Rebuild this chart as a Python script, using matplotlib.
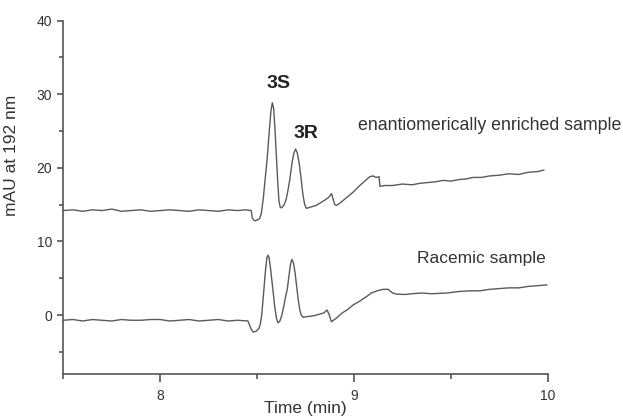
import numpy as np
import matplotlib.pyplot as plt
from matplotlib.ticker import MultipleLocator

plt.rcParams['font.family'] = ['Liberation Sans', 'DejaVu Sans']

# enantiomerically enriched sample (upper trace)
t_enr = [7.50, 7.55, 7.60, 7.65, 7.70, 7.75, 7.80, 7.85, 7.90, 7.95, 8.00, 8.05,
         8.10, 8.15, 8.20, 8.25, 8.30, 8.35, 8.40, 8.44, 8.47, 8.475, 8.487, 8.50,
         8.513, 8.522, 8.532, 8.542, 8.553, 8.563, 8.572, 8.579, 8.586, 8.593,
         8.600, 8.607, 8.613, 8.620, 8.628, 8.640, 8.650, 8.660, 8.670, 8.680,
         8.690, 8.699, 8.708, 8.718, 8.728, 8.737, 8.746, 8.755, 8.780, 8.806,
         8.830, 8.849, 8.870, 8.884, 8.892, 8.901, 8.910, 8.927, 8.950, 8.978,
         9.000, 9.030, 9.060, 9.082, 9.099, 9.115, 9.130, 9.134, 9.160, 9.200,
         9.250, 9.300, 9.340, 9.380, 9.420, 9.460, 9.500, 9.540, 9.580, 9.616,
         9.660, 9.700, 9.750, 9.800, 9.850, 9.900, 9.950, 9.980]
y_enr = [14.2, 14.3, 14.1, 14.3, 14.2, 14.4, 14.1, 14.2, 14.3, 14.1, 14.2, 14.3,
         14.2, 14.1, 14.3, 14.2, 14.1, 14.3, 14.2, 14.3, 14.2, 13.2, 12.8, 12.9,
         13.1, 13.8, 15.8, 18.5, 21.5, 25.0, 27.8, 28.85, 28.0, 25.0,
         21.5, 18.0, 15.5, 14.6, 14.6, 15.0, 15.7, 17.0, 18.6, 20.6,
         22.0, 22.55, 22.0, 20.5, 18.4, 16.3, 15.0, 14.5, 14.7, 14.9,
         15.3, 15.6, 16.0, 16.5, 15.8, 15.0, 14.9, 15.2, 15.7, 16.3,
         16.8, 17.6, 18.3, 18.8, 18.9, 18.7, 18.8, 17.5, 17.6, 17.6,
         17.8, 17.7, 17.9, 18.0, 18.1, 18.3, 18.2, 18.4, 18.5, 18.7,
         18.7, 18.9, 19.0, 19.2, 19.1, 19.4, 19.5, 19.7]

# racemic sample (lower trace)
t_rac = [7.50, 7.55, 7.60, 7.65, 7.70, 7.75, 7.80, 7.85, 7.90, 7.95, 8.00, 8.05,
         8.10, 8.15, 8.20, 8.25, 8.30, 8.35, 8.40, 8.453, 8.468, 8.479, 8.495,
         8.510, 8.517, 8.524, 8.530, 8.537, 8.545, 8.551, 8.556, 8.562, 8.569,
         8.576, 8.583, 8.591, 8.600, 8.608, 8.618, 8.628, 8.638, 8.648, 8.656,
         8.664, 8.672, 8.680, 8.688, 8.696, 8.704, 8.712, 8.720, 8.728, 8.737,
         8.760, 8.790, 8.820, 8.845, 8.861, 8.870, 8.884, 8.910, 8.940, 8.970,
         8.995, 9.030, 9.064, 9.090, 9.120, 9.150, 9.176, 9.200, 9.220, 9.260,
         9.300, 9.350, 9.400, 9.478, 9.540, 9.600, 9.650, 9.700, 9.750, 9.800,
         9.850, 9.900, 9.950, 9.995]
y_rac = [-0.7, -0.6, -0.8, -0.6, -0.7, -0.8, -0.6, -0.7, -0.7, -0.6, -0.6, -0.8,
         -0.7, -0.6, -0.8, -0.7, -0.6, -0.8, -0.7, -0.8, -1.8, -2.3, -2.2,
         -1.8, -1.2, 0.0, 1.8, 4.0, 6.5, 7.8, 8.15, 7.8, 6.5,
         4.8, 3.2, 1.2, -0.4, -1.05, -0.8, 0.0, 1.2, 2.6, 3.5,
         5.2, 6.8, 7.57, 7.1, 5.8, 4.0, 2.2, 0.8, 0.0, -0.3,
         -0.2, -0.1, 0.1, 0.3, 0.7, 0.2, -0.9, -0.4, 0.3, 0.8,
         1.36, 1.9, 2.5, 3.0, 3.3, 3.5, 3.5, 3.0, 2.85, 2.8,
         2.9, 3.0, 2.9, 3.0, 3.2, 3.3, 3.3, 3.5, 3.6, 3.7,
         3.7, 3.9, 4.0, 4.1]

peak_labels = ["3S", "3R"]
peak_pos = [(8.613, 30.8), (8.751, 24.05)]
trace_labels = ["enantiomerically enriched sample", "Racemic sample"]
trace_pos = [(9.021, 25.1), (9.326, 7.07)]

fig = plt.figure(figsize=(6.23, 4.17), dpi=100)
ax = fig.add_axes([0.1016, 0.1031, 0.7775, 0.8475])

line_col = '#5a5a5a'
ax.plot(t_enr, y_enr, color=line_col, lw=1.0)
ax.plot(t_rac, y_rac, color=line_col, lw=1.0)

for lab, (x, y) in zip(peak_labels, peak_pos):
    ax.text(x, y, lab, fontsize=14, fontweight='bold', color='#222222',
            ha='center', va='baseline')
for lab, (x, y), fs in zip(trace_labels, trace_pos, [12.8, 12.5]):
    ax.text(x, y, lab, fontsize=fs, color='#333333', ha='left', va='baseline',
            clip_on=False)

ax.set_xlim(7.5, 10)
ax.set_ylim(-8, 40)
ax.xaxis.set_major_locator(MultipleLocator(1))
ax.xaxis.set_minor_locator(MultipleLocator(0.5))
ax.yaxis.set_major_locator(MultipleLocator(10))
ax.yaxis.set_minor_locator(MultipleLocator(5))

for s in ['top', 'right']:
    ax.spines[s].set_visible(False)
for s in ['left', 'bottom']:
    ax.spines[s].set_color('#555555')
    ax.spines[s].set_linewidth(1.2)

ax.tick_params(axis='x', which='major', length=6, width=1.2, colors='#555555',
               labelcolor='#333333', labelsize=10, pad=5)
ax.tick_params(axis='x', which='minor', length=3.5, width=1.2, colors='#555555')
ax.tick_params(axis='y', which='major', length=4, width=1.2, colors='#555555',
               labelcolor='#333333', labelsize=10, pad=4)
ax.tick_params(axis='y', which='minor', length=3, width=1.2, colors='#555555')

ax.set_xlabel("Time (min)", fontsize=12.5, color='#333333')
ax.set_ylabel("mAU at 192 nm", fontsize=12.5, color='#333333')
ax.xaxis.set_label_coords(0.5, -0.075)
ax.yaxis.set_label_coords(-0.092, 0.62)

fig.savefig("out.png", dpi=100)
